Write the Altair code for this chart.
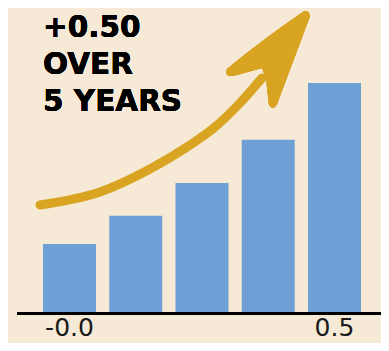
import altair as alt
import pandas as pd

# ---- data ----
categories = ["Y1", "Y2", "Y3", "Y4", "Y5"]
values = [-0.004, 0.084, 0.187, 0.322, 0.50]
tick_labels = ["-0.0", "", "", "", "0.5"]
headline = ["+0.50", "OVER", "5 YEARS"]
baseline_value = -0.2217

# arrow annotation (decoration, page pixel space)
arrow_x = [40, 100, 150, 190, 215, 240, 262]
arrow_y = [205, 192, 169, 145, 127, 103, 78]

BG = "#F6EAD6"
BAR = "#6E9FD5"
GOLD = "#D9A422"

OFF = 8  # page margin
df = pd.DataFrame({"cat": categories, "value": values, "label": tick_labels})
arrow_df = pd.DataFrame({"px": [v - OFF for v in arrow_x], "py": [v - OFF for v in arrow_y]})

W, H = 373, 335

xscale = alt.Scale(domain=categories, range=[9, 379], paddingInner=0.2, paddingOuter=0.3925)
yscale = alt.Scale(domain=[-0.314, 0.7348], nice=False, zero=False)

base = alt.Chart(df)

bars = base.mark_bar(color=BAR).encode(
    x=alt.X("cat:N", scale=xscale, axis=None, sort=categories),
    y=alt.Y("value:Q", scale=yscale, axis=None),
    y2=alt.datum(baseline_value),
)

rule = alt.Chart(df).mark_rule(color="black", strokeWidth=3).encode(
    y=alt.datum(baseline_value),
    x=alt.value(9),
    x2=alt.value(400),
)

labels = base.mark_text(
    font="DejaVu Sans", fontSize=25, color="#1a1a1a", baseline="alphabetic", align="center"
).encode(
    x=alt.X("cat:N", scale=xscale, axis=None, sort=categories),
    y=alt.value(328),
    text="label:N",
)

title = alt.Chart(df).mark_text(
    font="DejaVu Sans", fontWeight="bold", fontSize=29.5, color="black",
    align="left", baseline="alphabetic", lineHeight=37,
).encode(
    x=alt.value(43 - OFF),
    y=alt.value(37 - OFF),
    text=alt.value(headline),
)

shaft = alt.Chart(arrow_df).mark_line(
    color=GOLD, strokeWidth=9, strokeCap="round", interpolate="monotone"
).encode(
    x=alt.X("px:Q", scale=None),
    y=alt.Y("py:Q", scale=None),
)

head_path = (
    "M 303,12 Q 308,9 310,16 L 277,104 Q 273,111 269,105 L 266,78 L 262,68 "
    "L 233,76 Q 224,77 227,69 Q 262,40 303,12 Z"
)
head = alt.Chart(df).mark_point(
    shape=head_path, filled=True, size=4, color=GOLD, opacity=1, strokeWidth=0
).encode(
    x=alt.value(-OFF),
    y=alt.value(-OFF),
)

chart = alt.layer(bars, rule, labels, shaft, head, title).properties(
    width=W, height=H, padding=0, background=BG,
    autosize=alt.AutoSizeParams(type="none"),
).configure_view(stroke=None)

chart.save("out.html", embed_options={"renderer": "svg", "actions": False})
